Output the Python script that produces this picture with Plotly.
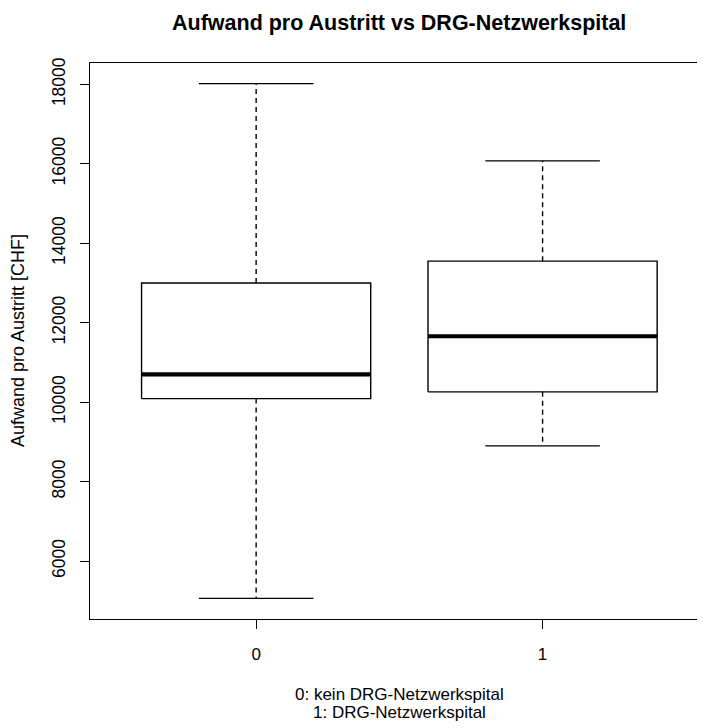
import plotly.graph_objects as go

# ---- data ----
categories = ["0", "1"]
lower_whisker = [5060, 8900]
q1_values = [10090, 10260]
median_values = [10700, 11660]
q3_values = [13000, 13550]
upper_whisker = [18020, 16075]
y_tick_values = [6000, 8000, 10000, 12000, 14000, 16000, 18000]
y_tick_labels = ["6000", "8000", "10000", "12000", "14000", "16000", "18000"]
legend_lines = ["0: kein DRG-Netzwerkspital", "1: DRG-Netzwerkspital"]

# ---- style ----
FONT = "Liberation Sans, Arial, Helvetica, sans-serif"
BOX_HALF = 0.4
CAP_HALF = 0.2
LW = 1.4
PAGE_OFFSET = 8  # default body margin of the html page

fig = go.Figure()

for i, cat in enumerate(categories):
    q1, q3, med = q1_values[i], q3_values[i], median_values[i]
    lo, hi = lower_whisker[i], upper_whisker[i]
    # box
    fig.add_trace(go.Scatter(
        x=[i - BOX_HALF, i + BOX_HALF, i + BOX_HALF, i - BOX_HALF, i - BOX_HALF],
        y=[q1, q1, q3, q3, q1], mode="lines",
        line=dict(color="black", width=LW), hoverinfo="skip", showlegend=False))
    # whiskers (dashed)
    fig.add_trace(go.Scatter(
        x=[i, i, None, i, i], y=[q3, hi, None, q1, lo], mode="lines",
        line=dict(color="black", width=LW, dash="5px,4px"),
        hoverinfo="skip", showlegend=False))
    # caps
    fig.add_trace(go.Scatter(
        x=[i - CAP_HALF, i + CAP_HALF, None, i - CAP_HALF, i + CAP_HALF],
        y=[hi, hi, None, lo, lo], mode="lines",
        line=dict(color="black", width=LW), hoverinfo="skip", showlegend=False))
    # median
    fig.add_trace(go.Scatter(
        x=[i - BOX_HALF, i + BOX_HALF], y=[med, med], mode="lines",
        line=dict(color="black", width=4.2), hoverinfo="skip", showlegend=False))

ymin = min(lower_whisker)
ymax = max(upper_whisker)
pad = 0.04 * (ymax - ymin)

fig.update_layout(
    width=705 - PAGE_OFFSET, height=728 - PAGE_OFFSET,
    margin=dict(l=90 - PAGE_OFFSET, r=0, t=63 - PAGE_OFFSET, b=109),
    paper_bgcolor="white", plot_bgcolor="white",
    font=dict(family=FONT, color="black", size=17),
    xaxis=dict(
        range=[-0.58, 1.567],
        tickmode="array", tickvals=list(range(len(categories))), ticktext=categories,
        ticks="outside", ticklen=9, tickwidth=LW, tickcolor="black",
        showline=True, linecolor="black", linewidth=LW, mirror=True,
        showgrid=False, zeroline=False,
        tickfont=dict(size=17), ticklabelstandoff=10,
    ),
    yaxis=dict(
        range=[ymin - pad, ymax + pad],
        tickmode="array", tickvals=y_tick_values, ticktext=y_tick_labels,
        ticks="outside", ticklen=9, tickwidth=LW, tickcolor="black",
        showline=True, linecolor="black", linewidth=LW, mirror=False,
        showgrid=False, zeroline=False,
        tickangle=-90, tickfont=dict(size=17.5), ticklabelstandoff=8,
    ),
    annotations=[
        dict(text="<b>Aufwand pro Austritt vs DRG-Netzwerkspital</b>",
             xref="x", yref="paper", x=0.5, y=1, yshift=40,
             xanchor="center", yanchor="middle", showarrow=False,
             font=dict(size=21.5, family=FONT)),
        dict(text="Aufwand pro Austritt [CHF]", textangle=-90,
             xref="paper", yref="paper", x=0, y=0.5, xshift=-72,
             xanchor="center", yanchor="middle", showarrow=False,
             font=dict(size=18, family=FONT)),
        dict(text=legend_lines[0], xref="x", yref="paper", x=0.5, y=0, yshift=-75,
             xanchor="center", yanchor="middle", showarrow=False,
             font=dict(size=17, family=FONT)),
        dict(text=legend_lines[1], xref="x", yref="paper", x=0.5, y=0, yshift=-93,
             xanchor="center", yanchor="middle", showarrow=False,
             font=dict(size=17, family=FONT)),
    ],
)

fig.write_html("out.html")
